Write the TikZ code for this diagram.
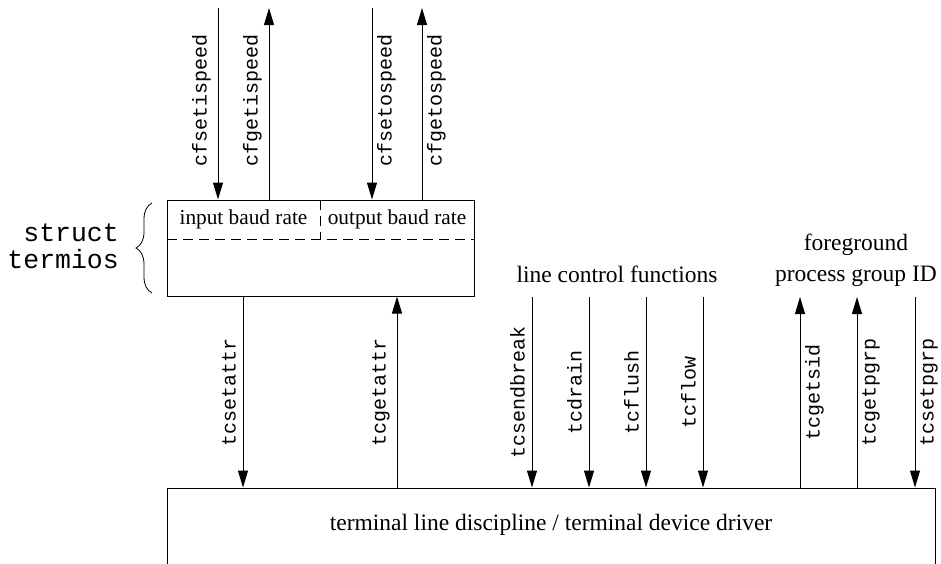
\documentclass[tikz,border=0pt]{standalone}
\usepackage{fontspec}
\setmainfont{Liberation Serif}
\setmonofont{Liberation Mono}
\usetikzlibrary{arrows.meta,decorations.pathreplacing}
\begin{document}
\begin{tikzpicture}[x=1pt,y=-1pt,
  conn/.style={line width=1pt},
  tipd/.style={conn,-{Triangle[length=17pt,width=10pt]}},
  boxst/.style={draw,line width=1pt,inner sep=0pt},
  fn/.style={font=\fontsize{20}{24}\selectfont\ttfamily, inner sep=0pt, rotate=90},
  fnl/.style={fn,anchor=south},
  fnr/.style={fn,anchor=north},
  lab/.style={font=\fontsize{23.5}{31}\selectfont, inner sep=0pt},
  blab/.style={font=\fontsize{21.3}{26}\selectfont, inner sep=0pt},
  dsh/.style={line width=1pt, dash pattern=on 10pt off 6pt}
]
\useasboundingbox (0,0) rectangle (941,563);
\clip (0,0) rectangle (941,563);

% boxes
\node[boxst, minimum width=307pt, minimum height=96pt] (tb) at (320.5,248) {};
\node[boxst, minimum width=768pt, minimum height=112pt] (bb) at (551,544) {};
\node[lab, anchor=base] (bbtext) at (551,530) {terminal line discipline / terminal device driver};

% inside top box
\draw[dsh] (tb.west |- 0,239) -- (tb.east |- 0,239);
\draw[dsh] (tb.north) -- (tb.north |- 0,239);
\node[blab, anchor=base] (ibr) at (243.5,224) {input baud rate};
\node[blab, anchor=base] (obr) at (397,224) {output baud rate};

% struct termios
\draw[line width=0.8pt, decorate, decoration={brace, amplitude=16pt}] (152,293) -- (152,203);
\node[font=\fontsize{26.5}{27}\selectfont\ttfamily, align=right, anchor=east, inner sep=0pt] (st) at (119,246) {struct\\termios};

% top arrows
\coordinate (a1) at (218,8);
\coordinate (a2) at (269,8);
\coordinate (a3) at (372,8);
\coordinate (a4) at (422,8);
\draw[tipd] (a1) -- (a1 |- tb.north);
\draw[tipd] (a2 |- tb.north) -- (a2);
\draw[tipd] (a3) -- (a3 |- tb.north);
\draw[tipd] (a4 |- tb.north) -- (a4);
\node[fnl] (l1) at (211,100) {cfsetispeed};
\node[fnl] (l2) at (262,100) {cfgetispeed};
\node[fnr] (l3) at (377,100) {cfsetospeed};
\node[fnr] (l4) at (427,100) {cfgetospeed};

% bottom arrows
\coordinate (b1) at (243,296);
\coordinate (b2) at (397,296);
\coordinate (b3) at (532,297);
\coordinate (b4) at (589,297);
\coordinate (b5) at (646,297);
\coordinate (b6) at (703,297);
\coordinate (b7) at (800,297);
\coordinate (b8) at (857,297);
\coordinate (b9) at (915,297);
\draw[tipd] (b1 |- tb.south) -- (b1 |- bb.north);
\draw[tipd] (b2 |- bb.north) -- (b2 |- tb.south);
\draw[tipd] (b3) -- (b3 |- bb.north);
\draw[tipd] (b4) -- (b4 |- bb.north);
\draw[tipd] (b5) -- (b5 |- bb.north);
\draw[tipd] (b6) -- (b6 |- bb.north);
\draw[tipd] (b7 |- bb.north) -- (b7);
\draw[tipd] (b8 |- bb.north) -- (b8);
\draw[tipd] (b9) -- (b9 |- bb.north);
\node[fnl] (m1) at (236,392) {tcsetattr};
\node[fnl] (m2) at (390,392) {tcgetattr};
\node[fnl] (m3) at (525,392) {tcsendbreak};
\node[fnl] (m4) at (582,392) {tcdrain};
\node[fnl] (m5) at (639,392) {tcflush};
\node[fnl] (m6) at (696,392) {tcflow};
\node[fnr] (m7) at (805,392) {tcgetsid};
\node[fnr] (m8) at (862,392) {tcgetpgrp};
\node[fnr] (m9) at (920,392) {tcsetpgrp};

% group labels
\node[lab, anchor=base] (lcf) at (617,282) {line control functions};
\node[lab, align=center, anchor=south] (fg) at (856,287) {foreground\\process group ID};
\end{tikzpicture}
\end{document}
